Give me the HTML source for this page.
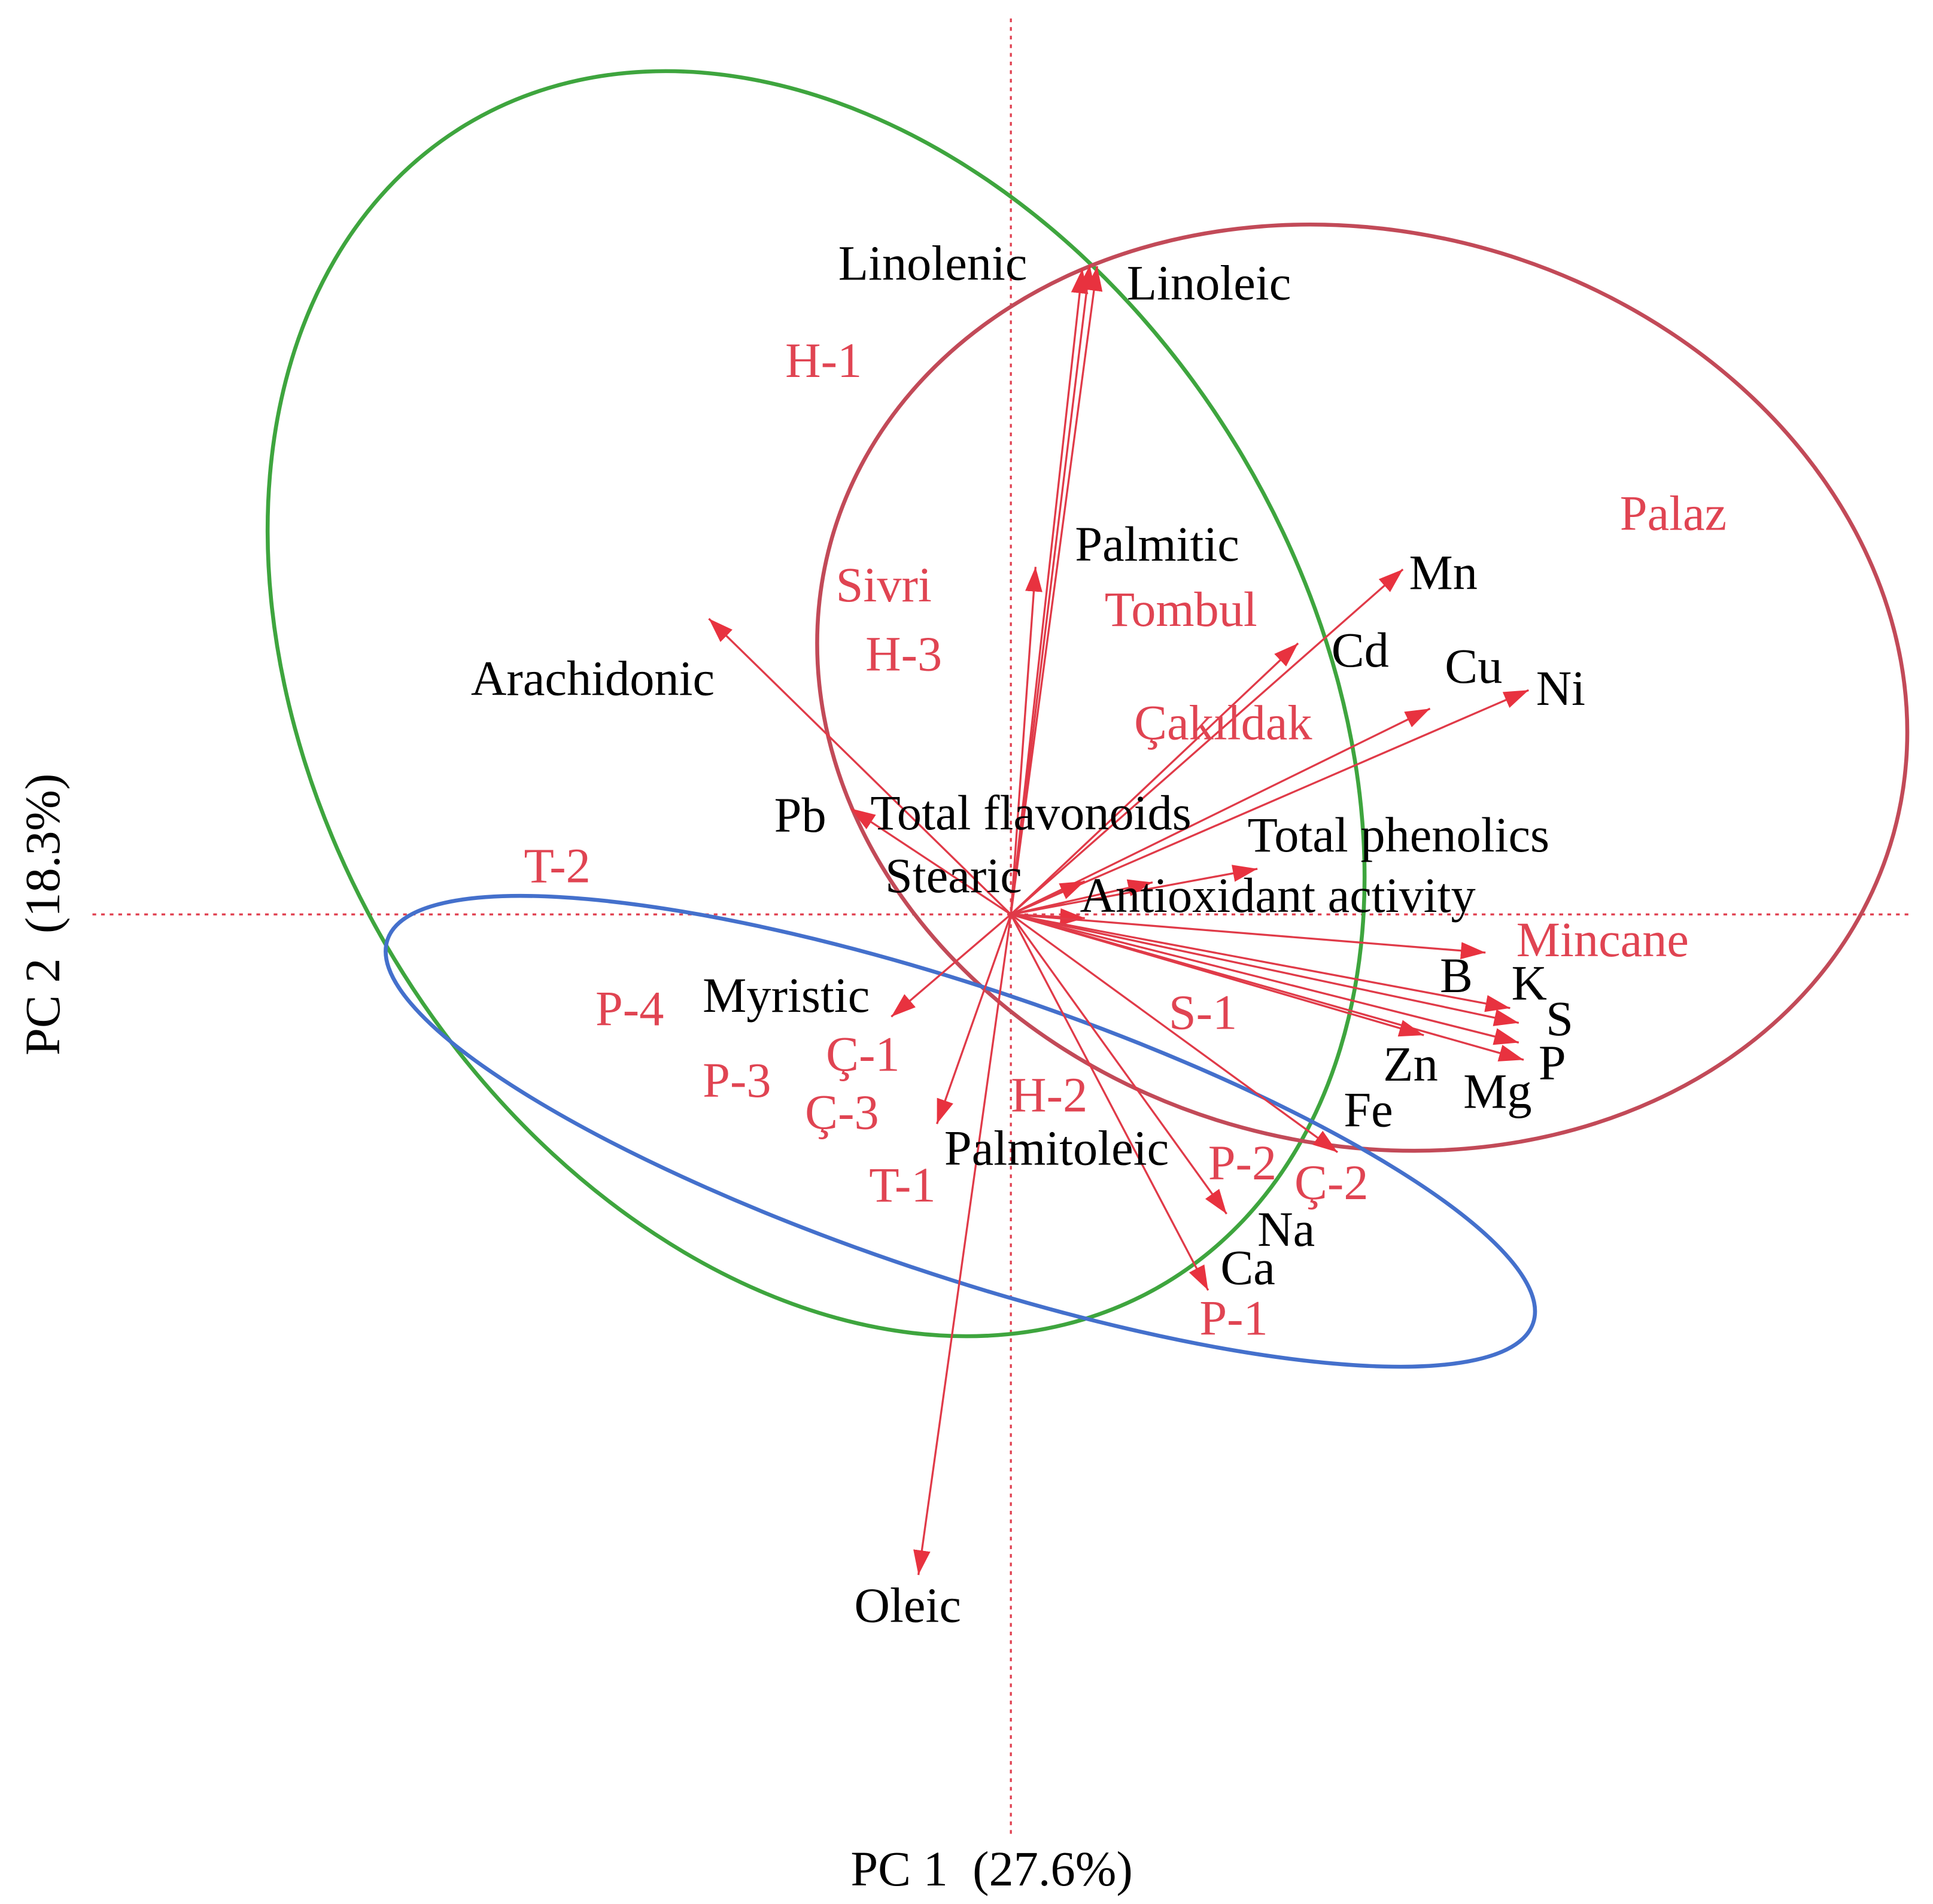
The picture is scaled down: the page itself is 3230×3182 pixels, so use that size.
<!DOCTYPE html>
<html><head><meta charset="utf-8"><style>html,body{margin:0;padding:0;background:#fff}svg{display:block}</style></head>
<body>
<svg width="3230" height="3182" viewBox="0 0 1568 1545" preserveAspectRatio="none" xmlns="http://www.w3.org/2000/svg">
<defs>
<marker id="a" markerUnits="userSpaceOnUse" markerWidth="22" markerHeight="16" refX="20" refY="8" orient="auto">
<path d="M0,1 L20,8 L0,15 Z" fill="#e8323f"/></marker>
</defs>
<g stroke="#e04050" stroke-width="1.6" stroke-dasharray="3,4">
<line x1="820" y1="15" x2="820" y2="1492"/>
<line x1="75" y1="742" x2="1550" y2="742"/>
</g>
<g fill="none" stroke-width="3.2">
<ellipse cx="662" cy="571" rx="549" ry="400" transform="rotate(58.8 662 571)" stroke="#3ea53e"/>
<ellipse cx="1105" cy="558" rx="447" ry="370" transform="rotate(15.2 1105 558)" stroke="#c24a58"/>
<ellipse cx="779" cy="918" rx="490" ry="117" transform="rotate(18.5 779 918)" stroke="#4470cc"/>
</g>
<g stroke="#e03a48" stroke-width="1.6" marker-end="url(#a)">
<line x1="820" y1="742" x2="878" y2="218"/>
<line x1="820" y1="742" x2="884" y2="215"/>
<line x1="820" y1="742" x2="890" y2="216"/>
<line x1="820" y1="742" x2="840" y2="460"/>
<line x1="820" y1="742" x2="575" y2="502"/>
<line x1="820" y1="742" x2="690" y2="656"/>
<line x1="820" y1="742" x2="1138" y2="462"/>
<line x1="820" y1="742" x2="1053" y2="522"/>
<line x1="820" y1="742" x2="1160" y2="575"/>
<line x1="820" y1="742" x2="1240" y2="560"/>
<line x1="820" y1="742" x2="1020" y2="705"/>
<line x1="820" y1="742" x2="935" y2="716"/>
<line x1="820" y1="742" x2="880" y2="715"/>
<line x1="820" y1="742" x2="880" y2="745"/>
<line x1="820" y1="742" x2="1205" y2="773"/>
<line x1="820" y1="742" x2="1225" y2="818"/>
<line x1="820" y1="742" x2="1232" y2="830"/>
<line x1="820" y1="742" x2="1232" y2="846"/>
<line x1="820" y1="742" x2="1236" y2="860"/>
<line x1="820" y1="742" x2="1155" y2="840"/>
<line x1="820" y1="742" x2="1085" y2="935"/>
<line x1="820" y1="742" x2="723" y2="825"/>
<line x1="820" y1="742" x2="760" y2="912"/>
<line x1="820" y1="742" x2="745" y2="1278"/>
<line x1="820" y1="742" x2="995" y2="985"/>
<line x1="820" y1="742" x2="980" y2="1047"/>
</g>
<g font-family="Liberation Serif, serif" font-size="40" fill="#000">
<text x="680" y="227">Linolenic</text>
<text x="914" y="243">Linoleic</text>
<text x="872" y="455">Palmitic</text>
<text x="1143" y="478">Mn</text>
<text x="1080" y="541">Cd</text>
<text x="1172" y="554">Cu</text>
<text x="1246" y="572">Ni</text>
<text x="382" y="564">Arachidonic</text>
<text x="628" y="675">Pb</text>
<text x="706" y="673">Total flavonoids</text>
<text x="1012" y="691">Total phenolics</text>
<text x="718" y="724">Stearic</text>
<text x="876" y="740">Antioxidant activity</text>
<text x="1168" y="805">B</text>
<text x="1226" y="811">K</text>
<text x="1254" y="840">S</text>
<text x="1248" y="876">P</text>
<text x="1187" y="899">Mg</text>
<text x="1122" y="877">Zn</text>
<text x="1090" y="914">Fe</text>
<text x="570" y="821">Myristic</text>
<text x="766" y="945">Palmitoleic</text>
<text x="1020" y="1011">Na</text>
<text x="990" y="1042">Ca</text>
<text x="693" y="1316">Oleic</text>
<text x="690" y="1530">PC 1&#160;&#160;(27.6%)</text>
<text transform="translate(48,742) rotate(-90)" text-anchor="middle">PC 2&#160;&#160;(18.3%)</text>
</g>
<g font-family="Liberation Serif, serif" font-size="40" fill="#e04452">
<text x="637" y="306">H-1</text>
<text x="1314" y="430">Palaz</text>
<text x="678" y="488">Sivri</text>
<text x="896" y="508">Tombul</text>
<text x="702" y="544">H-3</text>
<text x="920" y="600">Çakıldak</text>
<text x="425" y="716">T-2</text>
<text x="1230" y="776">Mincane</text>
<text x="483" y="832">P-4</text>
<text x="948" y="835">S-1</text>
<text x="670" y="869">Ç-1</text>
<text x="570" y="890">P-3</text>
<text x="653" y="916">Ç-3</text>
<text x="820" y="902">H-2</text>
<text x="980" y="957">P-2</text>
<text x="1050" y="973">Ç-2</text>
<text x="705" y="975">T-1</text>
<text x="973" y="1083">P-1</text>
</g>
</svg>
</body></html>
